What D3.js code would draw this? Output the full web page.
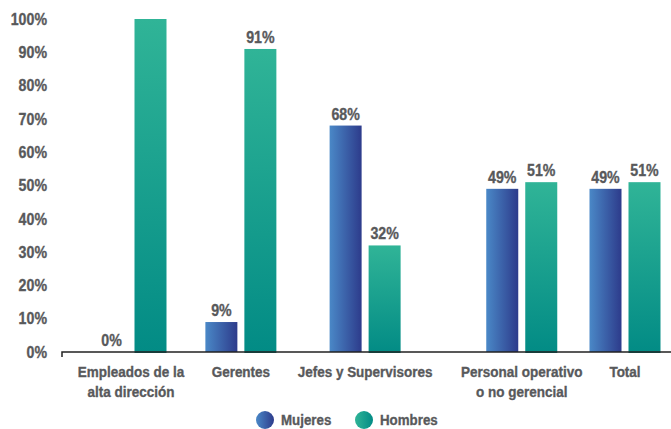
<!DOCTYPE html>
<html>
<head>
<meta charset="utf-8">
<script src="https://cdn.jsdelivr.net/npm/d3@7"></script>
<style>
  body { margin: 0; background: #fff; }
  svg text { font-family: "Liberation Sans", Arial, sans-serif; font-weight: bold; fill: #58595b; stroke: #58595b; stroke-width: 0.35px; }
</style>
</head>
<body>
<svg id="chart" width="671" height="429"></svg>
<script>
// Categories and series
const categories = [
  ["Empleados de la", "alta dirección"],
  ["Gerentes"],
  ["Jefes y Supervisores"],
  ["Personal operativo", "o no gerencial"],
  ["Total"]
];
const mujeres = [0, 9, 68, 49, 49];
const hombres = [100, 91, 32, 51, 51];
const yTicks = [0, 10, 20, 30, 40, 50, 60, 70, 80, 90, 100];
const seriesNames = ["Mujeres", "Hombres"];

const svg = d3.select('#chart');
const defs = svg.append('defs');

// condensed look: squeeze the regular face horizontally
const SQ = 0.86, SQ_CAT = 0.9;
const at = (x, y, s = SQ) => `translate(${x},${y}) scale(${s},1)`;

function gradient(id, x2, y2, from, to) {
  const g = defs.append('linearGradient').attr('id', id)
    .attr('x1', 0).attr('y1', 0).attr('x2', x2).attr('y2', y2);
  g.append('stop').attr('offset', '0%').attr('stop-color', from);
  g.append('stop').attr('offset', '100%').attr('stop-color', to);
}
gradient('grad-m', 1, 0, '#4a88c7', '#2d3b8b');   // mujeres, left to right
gradient('grad-h', 0, 1, '#30b497', '#028b85');   // hombres, top to bottom
gradient('grad-hl', 1, 0, '#30b497', '#028b85');  // legend dot

const y = d3.scaleLinear().domain([0, 100]).range([352, 19]);
const barW = 32, gap = 7;

// Category labels first, so group spacing can follow their widths
const catLabels = svg.append('g').selectAll('text')
  .data(categories)
  .join('text')
  .attr('text-anchor', 'middle')
  .style('font-size', '15px');
catLabels.selectAll('tspan')
  .data(d => d)
  .join('tspan')
  .attr('x', 0)
  .attr('y', (d, k) => k * 20)
  .text(d => d);

const widths = catLabels.nodes().map(n => n.getBBox().width * SQ_CAT);
const pad = 24;
const cum = [0];
for (let i = 1; i < widths.length; i++) {
  cum.push(cum[i - 1] + (widths[i - 1] + widths[i]) / 2 + pad);
}
const x = d3.scaleLinear().domain([0, cum[cum.length - 1]]).range([131, 625]);
const cx = i => x(cum[i]);

catLabels.attr('transform', (d, i) => at(cx(i), 377, SQ_CAT));

// Y tick labels
svg.append('g').selectAll('text')
  .data(yTicks)
  .join('text')
  .attr('transform', d => at(47, y(d)))
  .attr('dy', '0.35em')
  .attr('text-anchor', 'end')
  .style('font-size', '16.5px')
  .text(d => d + '%');

// Bars
const groups = svg.append('g').selectAll('g')
  .data(categories.map((c, i) => i))
  .join('g');

groups.append('rect')
  .attr('x', i => cx(i) - gap / 2 - barW)
  .attr('y', i => y(mujeres[i]))
  .attr('width', barW)
  .attr('height', i => y(0) - y(mujeres[i]))
  .attr('fill', 'url(#grad-m)');

groups.append('rect')
  .attr('x', i => cx(i) + gap / 2)
  .attr('y', i => y(hombres[i]))
  .attr('width', barW)
  .attr('height', i => y(0) - y(hombres[i]) + 1)
  .attr('fill', 'url(#grad-h)');

// Value labels (the 100% bar reaches the top, no room for one)
groups.append('text')
  .attr('transform', i => at(cx(i) - gap / 2 - barW / 2, y(mujeres[i]) - 6))
  .attr('text-anchor', 'middle')
  .style('font-size', '16.5px')
  .text(i => mujeres[i] + '%');

groups.filter(i => hombres[i] < 100).append('text')
  .attr('transform', i => at(cx(i) + gap / 2 + barW / 2, y(hombres[i]) - 6))
  .attr('text-anchor', 'middle')
  .style('font-size', '16.5px')
  .text(i => hombres[i] + '%');

// Baseline axis
svg.append('path')
  .attr('d', `M62,${y(0) + 5}V${y(0)}H671`)
  .attr('fill', 'none')
  .attr('stroke', '#222')
  .attr('stroke-width', 1.5);

// Legend
const legendX = [265, 364];
const legendFill = ['url(#grad-m)', 'url(#grad-hl)'];
const legend = svg.append('g').selectAll('g')
  .data(seriesNames)
  .join('g');
legend.append('circle')
  .attr('cx', (d, k) => legendX[k]).attr('cy', 420).attr('r', 9)
  .attr('fill', (d, k) => legendFill[k]);
legend.append('text')
  .attr('transform', (d, k) => at(legendX[k] + 16, 425))
  .style('font-size', '15.5px')
  .text(d => d);
</script>
</body>
</html>
